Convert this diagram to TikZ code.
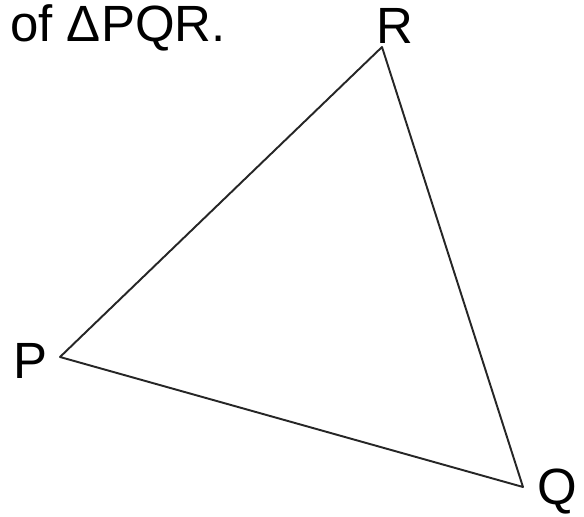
\documentclass[tikz,border=0pt]{standalone}
\usepackage{fontspec}
\setmainfont{Liberation Sans}
\usetikzlibrary{positioning}

\begin{document}
\begin{tikzpicture}[
  lbl/.style={font=\fontsize{29}{32}\selectfont, inner sep=0pt},
  side/.style={line width=1.1pt, draw=black!85, line join=round}
]
\useasboundingbox (0,0) rectangle (11.68,10.32);
% vertices
\coordinate (P) at (1.2,3.18);
\coordinate (R) at (7.64,9.38);
\coordinate (Q) at (10.46,0.58);
% labels
\node[lbl] (lr) at (7.9,9.8) {R};
\node[lbl] (lp) at (0.6,3.1) {P};
\node[lbl] (lq) at (11.14,0.48) {Q};
\node[lbl, anchor=west] (title) at (0.2,9.76) {of ΔPQR.};
\draw[side] (P) -- (R) -- (Q) -- cycle;
\end{tikzpicture}
\end{document}
